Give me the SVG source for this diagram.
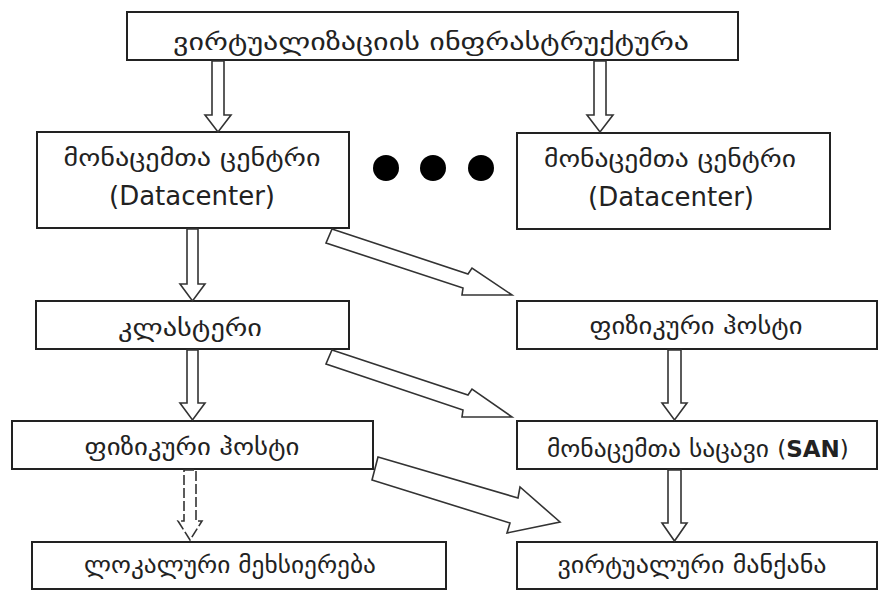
<svg xmlns="http://www.w3.org/2000/svg" width="880" height="592" viewBox="0 0 880 592">
<style>
.box{fill:#fff;stroke:#222;stroke-width:2}
.t{font-family:"DejaVu Sans",sans-serif;fill:#222;text-anchor:middle}
.ka{font-family:"DejaVu Sans",sans-serif;fill:#222;text-anchor:middle;font-size:24px}
.arr{fill:#fff;stroke:#333;stroke-width:1.6;stroke-linejoin:miter}
.dash{stroke-dasharray:10 3}
</style>
<rect width="880" height="592" fill="#fff"/>
<g id="infra"><rect class="box" x="127" y="12" width="611" height="48"/><text class="ka" x="431" y="50" font-size="28" textLength="516" lengthAdjust="spacingAndGlyphs">ვირტუალიზაციის ინფრასტრუქტურა</text></g>
<g id="dc1"><rect class="box" x="37" y="132" width="312" height="96"/><text class="ka" x="192" y="166" font-size="27" textLength="257" lengthAdjust="spacingAndGlyphs">მონაცემთა ცენტრი</text><text class="t" x="192" y="205" font-size="26">(Datacenter)</text></g>
<g id="dots"><circle cx="386" cy="168" r="13" fill="#000"/><circle cx="433" cy="168" r="13" fill="#000"/><circle cx="481" cy="168" r="13" fill="#000"/></g>
<g id="dc2"><rect class="box" x="517" y="133" width="313" height="96"/><text class="ka" x="670" y="167" font-size="27" textLength="252" lengthAdjust="spacingAndGlyphs">მონაცემთა ცენტრი</text><text class="t" x="671" y="206" font-size="26">(Datacenter)</text></g>
<g id="cluster"><rect class="box" x="36" y="301" width="313" height="48"/><text class="ka" x="190" y="336" textLength="144" lengthAdjust="spacingAndGlyphs">კლასტერი</text></g>
<g id="host2"><rect class="box" x="517" y="301" width="360" height="48"/><text class="ka" x="696" y="334" textLength="213" lengthAdjust="spacingAndGlyphs">ფიზიკური ჰოსტი</text></g>
<g id="host1"><rect class="box" x="12" y="421" width="361" height="48"/><text class="ka" x="192" y="455" textLength="215" lengthAdjust="spacingAndGlyphs">ფიზიკური ჰოსტი</text></g>
<g id="san"><rect class="box" x="517" y="421" width="360" height="48"/><text class="ka" x="658" y="457" textLength="222" lengthAdjust="spacingAndGlyphs">მონაცემთა საცავი</text><text class="t" x="813" y="457" font-size="23">(<tspan font-weight="bold">SAN</tspan>)</text></g>
<g id="local"><rect class="box" x="32" y="542" width="414" height="47"/><text class="ka" x="230" y="573" textLength="292" lengthAdjust="spacingAndGlyphs">ლოკალური მეხსიერება</text></g>
<g id="vm"><rect class="box" x="517" y="542" width="360" height="47"/><text class="ka" x="692" y="573" textLength="269" lengthAdjust="spacingAndGlyphs">ვირტუალური მანქანა</text></g>
<g id="connectors">
<polygon class="arr" points="212,61 224,61 224,115 231,115 218,132 205,115 212,115"/>
<polygon class="arr" points="594,61 606,61 606,115 613,115 600,132 587,115 594,115"/>
<polygon class="arr" points="187,229 198,229 198,284 205,284 192.5,301 180,284 187,284"/>
<polygon class="arr" points="187,350 198,350 198,403 205,403 192.5,420 180,403 187,403"/>
<polygon class="arr dash" points="184,470 196,470 196,521 202,521 190,540 178,521 184,521"/>
<polygon class="arr" points="668,350 681,350 681,403 687,403 674.5,420 662,403 668,403"/>
<polygon class="arr" points="668,470 681,470 681,523 687,523 674.5,541 662,523 668,523"/>
<polygon class="arr" points="332,229 468,274 472,268 512,295 462,295 463,288 326,243"/>
<polygon class="arr" points="332,350 468,395 472,389 512,417 462,417 463,410 326,364"/>
<polygon class="arr" points="378,457 518,498 520,487 560,522 507,533 510,523 372,480"/>
</g>
</svg>
